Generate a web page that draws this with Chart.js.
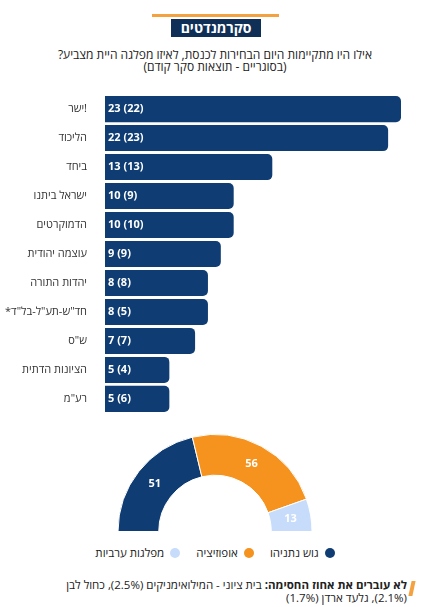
<!DOCTYPE html>
<html><head><meta charset="utf-8">
<script src="https://cdn.jsdelivr.net/npm/chart.js@4"></script>
<style>
body{margin:0;width:430px;height:607px;background:#fff;font-family:"Open Sans","Noto Sans",sans-serif;color:#222;overflow:hidden;position:relative}
.hdr{position:absolute;left:152px;top:14px;width:127px;height:3px;background:#f4a240}
.logo{position:absolute;left:171px;top:19px;width:90px;height:16px;background:#0f2f57;color:#fff;font-weight:bold;font-size:14px;text-align:center;line-height:16px;padding:1px 0}
.q{position:absolute;top:49px;left:0;width:430px;text-align:center;font-size:12px;line-height:12px;direction:rtl}
#bars{position:absolute;left:0;top:78px}
#pie{position:absolute;left:0;top:430px}
.leg{position:absolute;top:545px;left:0;width:430px;text-align:center;direction:rtl;font-size:11.5px}
.leg span{display:inline-block;margin:0 8px}
.leg i{display:inline-block;width:10px;height:10px;border-radius:50%;vertical-align:-1px;margin-left:6px}
.note{position:absolute;top:578px;left:52px;width:355px;direction:rtl;font-size:11.5px;line-height:13px}
.bar{position:absolute;left:410px;top:581px;width:4px;height:15px;background:#f4a240;transform:skewX(-12deg)}
</style></head><body>
<div class="hdr"></div>
<div class="logo">סקר<span>מנדטים</span></div>
<div class="q">אילו היו מתקיימות היום הבחירות לכנסת, לאיזו מפלגה היית מצביע?<br>(בסוגריים - תוצאות סקר קודם)</div>
<canvas id="bars" width="430" height="352"></canvas>
<canvas id="pie" width="430" height="102"></canvas>
<div class="leg"><span><i style="background:#0f3d73"></i>גוש נתניהו</span><span><i style="background:#f6921e"></i>אופוזיציה</span><span><i style="background:#c7dcfb"></i>מפלגות ערביות</span></div>
<div class="bar"></div>
<div class="note"><b>לא עוברים את אחוז החסימה:</b> בית ציוני - המילואימניקים (2.5%), כחול לבן (2.1%), גלעד ארדן (1.7%)</div>
<script>
const parties = ["ישר!", "הליכוד", "ביחד", "ישראל ביתנו", "הדמוקרטים", "עוצמה יהודית", "יהדות התורה", "*חד\"ש-תע\"ל-בל\"ד", "ש\"ס", "הציונות הדתית", "רע\"מ"];
const seats = [23, 22, 13, 10, 10, 9, 8, 8, 7, 5, 5];
const prevSeats = [22, 23, 13, 9, 10, 9, 8, 5, 7, 4, 6];
const blocs = ["גוש נתניהו", "אופוזיציה", "מפלגות ערביות"];
const blocSeats = [51, 56, 13];
const navy = "#0f3d73";

Chart.defaults.font.family = '"Open Sans","Noto Sans",sans-serif';
Chart.defaults.animation = false;

const valueLabels = {
  id: "valueLabels",
  afterDatasetsDraw(chart) {
    const ctx = chart.ctx;
    chart.getDatasetMeta(0).data.forEach((bar, i) => {
      ctx.save();
      ctx.fillStyle = "#fff";
      ctx.font = 'bold 11px "Open Sans"';
      ctx.textBaseline = "middle";
      ctx.fillText(seats[i] + " (" + prevSeats[i] + ")", bar.base + 3, bar.y);
      ctx.restore();
    });
  }
};

new Chart(document.getElementById("bars"), {
  type: "bar",
  data: { labels: parties, datasets: [{ data: seats, backgroundColor: navy, borderRadius: { topRight: 5, bottomRight: 5 }, borderSkipped: false, barPercentage: 0.9, categoryPercentage: 1 }] },
  options: {
    indexAxis: "y", responsive: false,
    layout: { padding: { left: 0, right: 29, top: 0, bottom: 0 } },
    plugins: { legend: { display: false }, tooltip: { enabled: false } },
    scales: {
      x: { display: false, min: 0, max: 23 },
      y: { afterFit(s) { s.width = 105; }, grid: { display: false }, border: { display: false }, ticks: { color: "#333", font: { size: 11 }, padding: 10 } }
    }
  },
  plugins: [valueLabels]
});

const pieLabels = {
  id: "pieLabels",
  afterDatasetsDraw(chart) {
    const ctx = chart.ctx;
    chart.getDatasetMeta(0).data.forEach((arc, i) => {
      const p = arc.tooltipPosition();
      ctx.save();
      ctx.fillStyle = "#fff";
      ctx.font = 'bold 11px "Open Sans"';
      ctx.textAlign = "center"; ctx.textBaseline = "middle";
      ctx.fillText(blocSeats[i], p.x, p.y);
      ctx.restore();
    });
  }
};

new Chart(document.getElementById("pie"), {
  type: "doughnut",
  data: { labels: blocs, datasets: [{ data: blocSeats, backgroundColor: [navy, "#f6921e", "#c7dcfb"], borderColor: "#fff", borderWidth: 1 }] },
  options: {
    responsive: false, rotation: -90, circumference: 180, cutout: "58%", aspectRatio: 430/102,
    layout: { padding: { top: 4, bottom: -92 } },
    plugins: { legend: { display: false }, tooltip: { enabled: false } }
  },
  plugins: [pieLabels]
});
</script>
</body></html>
